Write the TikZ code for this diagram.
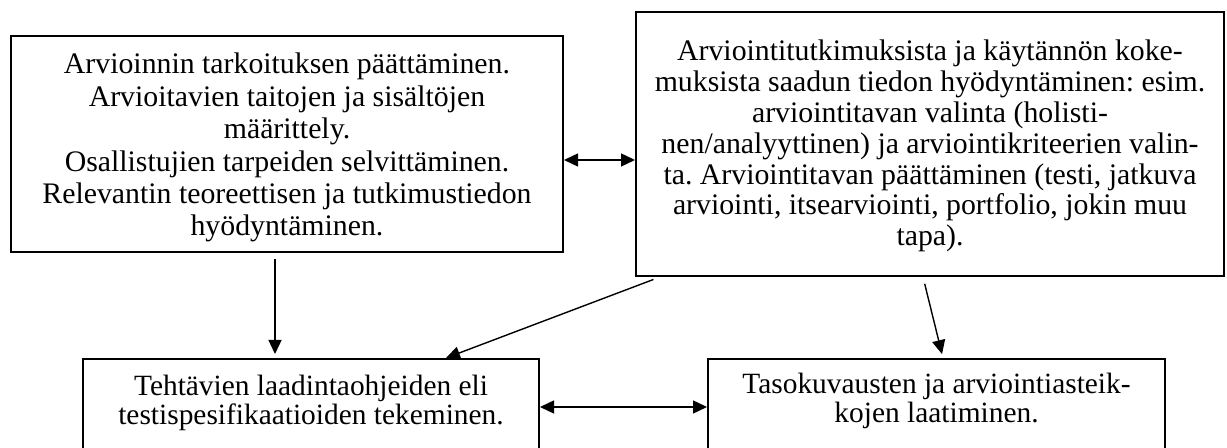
\documentclass[tikz,border=0pt]{standalone}
\usepackage{fontspec}
\setmainfont{Liberation Serif}
\usetikzlibrary{arrows.meta}
\setlength{\lineskiplimit}{-20pt}
\frenchspacing
% framed text block: width, height, first-baseline drop, text
\newcommand{\framedtext}[4]{\parbox[t][#2][t]{#1}{\centering\rule{0pt}{#3}#4}}
\begin{document}
\begin{tikzpicture}[x=0.5pt,y=-0.5pt,
  box/.style={draw, line width=1pt, inner sep=0pt, anchor=north west},
  arr/.style={line width=0.7pt, -{Triangle[length=7pt,width=6.5pt]}},
  darr/.style={line width=0.7pt,
    {Triangle[length=7pt,width=6.5pt]}-{Triangle[length=7pt,width=6.5pt]}}]
\useasboundingbox (0,0) rectangle (1227,448);
\clip (0,0) rectangle (1227,448);

% upper row
\node[box, font=\fontsize{14.9}{16.2}\selectfont] (plan) at (10,35)
  {\framedtext{276pt}{108pt}{19pt}{Arvioinnin tarkoituksen päättäminen.\\
   Arvioitavien taitojen ja sisältöjen\\
   määrittely.\\
   Osallistujien tarpeiden selvittäminen.\\
   Relevantin teoreettisen ja tutkimustiedon\\
   hyödyntäminen.}};
\node[box, font=\fontsize{14.9}{15.4}\selectfont] (method) at (635,11)
  {\framedtext{294pt}{132pt}{24.5pt}{Arviointitutkimuksista ja käytännön koke-\\
   muksista saadun tiedon hyödyntäminen: esim.\\
   arviointitavan valinta (holisti-\\
   nen/analyyttinen) ja arviointikriteerien valin-\\
   ta. Arviointitavan päättäminen (testi, jatkuva\\
   arviointi, itsearviointi, portfolio, jokin muu\\
   tapa).}};

% lower row (boxes run on below the frame)
\node[box, font=\fontsize{14.7}{12.5}\selectfont] (spec) at (82,358)
  {\framedtext{228pt}{60pt}{18.5pt}{Tehtävien laadintaohjeiden eli\\
   testispesifikaatioiden tekeminen.}};
\node[box, font=\fontsize{14.7}{12.5}\selectfont] (scale) at (707,358)
  {\framedtext{228.5pt}{60pt}{17.5pt}{Tasokuvausten ja arviointiasteik-\\
   kojen laatiminen.}};

% connector positions along the box edges
\coordinate (vx) at (275,0);
\coordinate (d1s) at (660,0);
\coordinate (d1e) at (446,0);
\coordinate (d2s) at (923,0);
\coordinate (d2e) at (943,0);
\coordinate (hy) at (0,160);
\coordinate (ly) at (0,407);

\draw[darr] (plan.east |- hy) -- (method.west |- hy);
\draw[darr] (spec.east |- ly) -- (scale.west |- ly);
\draw[arr, shorten <=3pt, shorten >=2pt] (plan.south -| vx) -- (spec.north -| vx);
\draw[arr, shorten <=3.5pt] (method.south -| d1s) -- (spec.north -| d1e);
\draw[arr, shorten <=3.5pt, shorten >=2pt] (method.south -| d2s) -- (scale.north -| d2e);
\end{tikzpicture}
\end{document}
